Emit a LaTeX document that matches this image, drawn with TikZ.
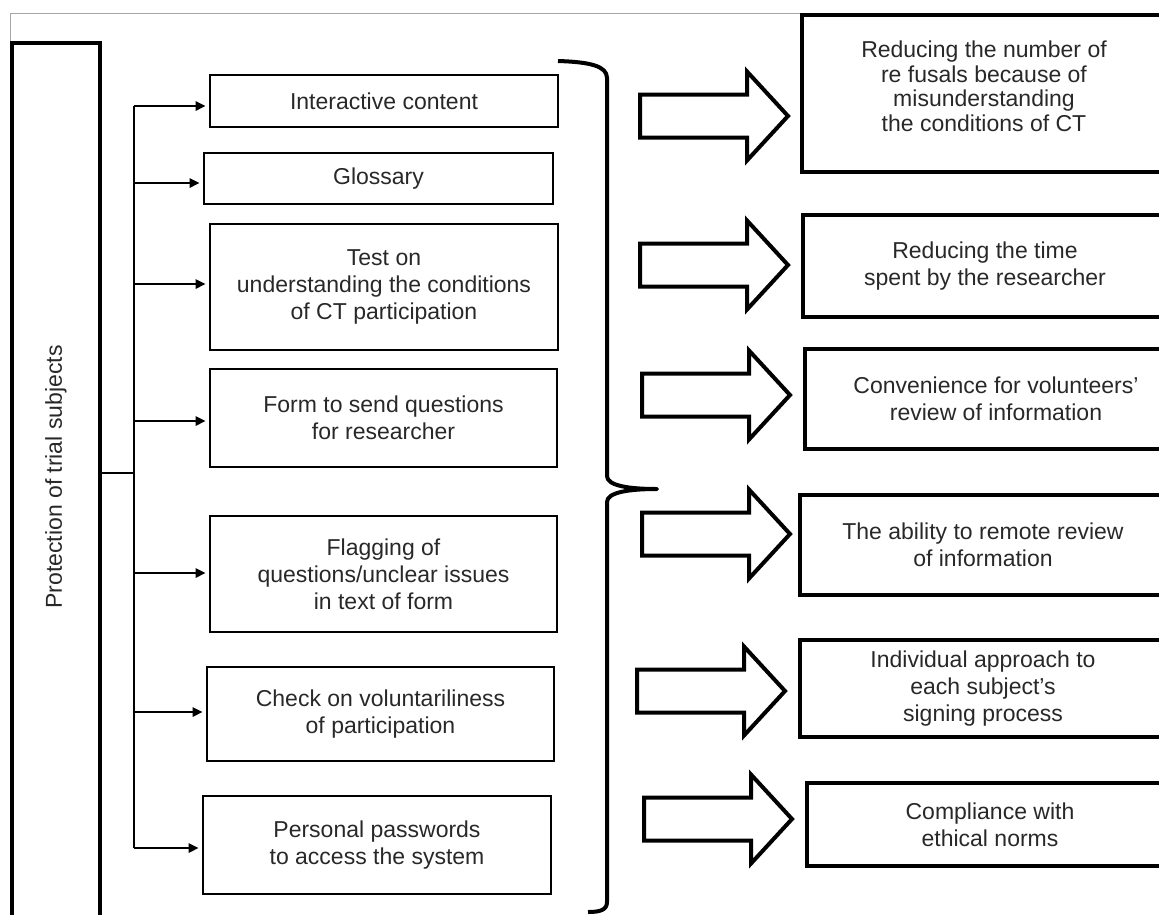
\documentclass[tikz,border=0pt]{standalone}
\usepackage{fontspec}
\setmainfont{Liberation Sans}
\usepackage{tikz}
\usetikzlibrary{arrows.meta}

\definecolor{txtgray}{RGB}{40,40,40}

\tikzset{
  itembox/.style={draw, line width=2.6pt, inner sep=0pt, align=center, text=txtgray},
  goalbox/.style={draw, line width=4pt, inner sep=0pt, align=center, text=txtgray},
  feed/.style={-{Triangle[length=10pt,width=9pt]}, line width=2.6pt, shorten >=3pt},
}

\begin{document}
\begin{tikzpicture}[x=1pt, y=-1pt, font=\fontsize{23}{27}\selectfont]

\useasboundingbox (0,0) rectangle (1159,914);
\clip (0,0) rectangle (1159,914);

% frame of the page
\draw[gray!70, line width=1pt] (10,43) -- (10,13) -- (1170,13);

%% subject block on the left
\node[draw, line width=4pt, minimum width=88pt, minimum height=890pt, inner sep=0pt] (protect) at (56,488) {};
\path
(protect.center |- 0,477) node[rotate=90, text=txtgray] (protectlabel) {Protection of trial subjects};

%% tools of the system
\node[itembox, minimum width=348pt, minimum height=52pt] (interactive) at (384,101) {Interactive content};
\node[itembox, minimum width=349pt, minimum height=51pt] (glossary) at (378.5,178.5) {Glossary};
\node[itembox, minimum width=348pt, minimum height=126pt] (test) at (384,287) {Test on\\understanding the conditions\\of CT participation};
\node[itembox, minimum width=347pt, minimum height=98pt] (form) at (383.5,418) {Form to send questions\\for researcher};
\node[itembox, minimum width=347pt, minimum height=116pt] (flagging) at (383.5,574) {Flagging of\\questions/unclear issues\\in text of form};
\node[itembox, minimum width=347pt, minimum height=94pt] (check) at (380.5,714) {Check on voluntariliness\\of participation};
\node[itembox, minimum width=348pt, minimum height=98pt] (passwords) at (377,845) {Personal passwords\\to access the system};

%% results
\node[goalbox, minimum width=364pt, minimum height=157pt, font=\fontsize{23}{24.5}\selectfont] (refusals) at (984,93.5) {Reducing the number of\\re fusals because of\\misunderstanding\\the conditions of CT\\[-10pt]};
\node[goalbox, minimum width=364pt, minimum height=102pt] (time) at (985,266) {Reducing the time\\spent by the researcher};
\node[goalbox, minimum width=382pt, minimum height=100pt] (convenience) at (996,399) {Convenience for volunteers’\\review of information};
\node[goalbox, minimum width=366pt, minimum height=100pt] (remote) at (983,545) {The ability to remote review\\of information};
\node[goalbox, minimum width=366pt, minimum height=97pt] (individual) at (983,688.5) {Individual approach to\\each subject’s\\signing process};
\node[goalbox, minimum width=366pt, minimum height=83pt] (ethics) at (990,824.5) {Compliance with\\ethical norms};

%% tree of connectors
\coordinate (trunk) at (134,0);
\coordinate (joint) at (134,473);
\draw[line width=2.6pt] (trunk |- 0,106) -- (trunk |- 0,848);
\draw[line width=2.6pt] (protect.east |- joint) -- (joint);
\foreach \n/\y in {interactive/106, glossary/183, test/284, form/421, flagging/573, check/712, passwords/848}
  {
  \draw[feed] (trunk |- 0,\y) -- (\n.west |- 0,\y);
  }

%% brace
\draw[line width=4pt, line join=round] (558,61) .. controls (590,62) and (607,66) .. (607,78)
  -- (607,476) .. controls (607,486) and (630,489) .. (657,489)
  .. controls (630,489) and (607,492) .. (607,502)
  -- (607,902) .. controls (607,910) and (600,912) .. (588,912);

%% hollow arrows
\foreach \tx/\cy in {640/116, 640/265, 642/395, 642/534, 637/691, 644/819}
  {
  \draw[line width=4pt, miter limit=10]
   (\tx,\cy-21.5) -- ++(107,0) -- ++(0,-23) -- ++(41,44.5) -- ++(-41,44.5)
   -- ++(0,-23) -- ++(-107,0) -- cycle;
  }

\end{tikzpicture}
\end{document}
